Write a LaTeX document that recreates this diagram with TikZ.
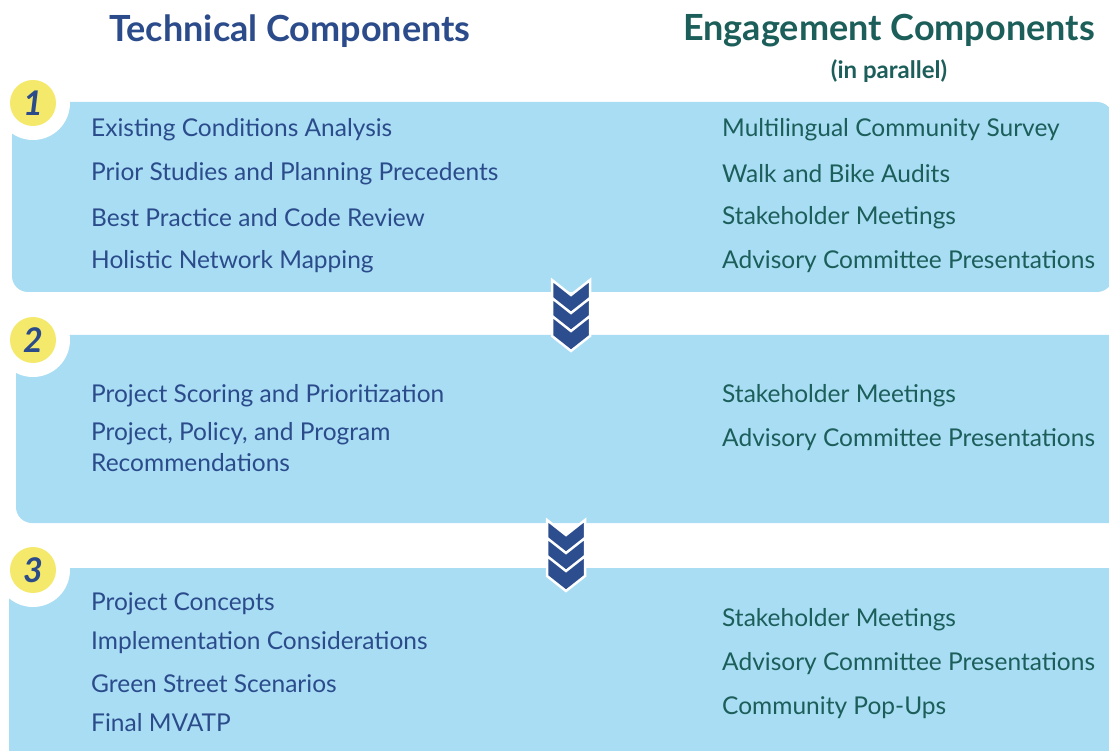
\documentclass[tikz,border=0pt]{standalone}
\usepackage{fontspec}
\setmainfont{Lato}
\usetikzlibrary{positioning}
\definecolor{bandblue}{HTML}{A8DDF4}
\definecolor{techblue}{HTML}{2B4B8B}
\definecolor{engteal}{HTML}{1C5E5A}
\definecolor{numyellow}{HTML}{F4E96A}
\definecolor{chevblue}{HTML}{2C4D8E}

\tikzset{
  band/.style={fill=bandblue, rounded corners=16pt},
  tech/.style={anchor=west, inner sep=0pt, text=techblue, font=\fontsize{24.5}{31}\selectfont, align=left},
  eng/.style={tech, text=engteal},
  head/.style={inner sep=0pt, font=\fontsize{36}{40}\bfseries\selectfont},
  num/.style={circle, fill=numyellow, minimum size=46pt, inner sep=0pt, text=techblue,
    font=\fontsize{34}{34}\bfseries\itshape\selectfont},
  chev/.style={fill=chevblue, draw=white, line width=2.5pt, line join=miter}
}

\begin{document}
\begin{tikzpicture}[x=1pt,y=-1pt]
  \clip (0,0) rectangle (1109,751);
  \fill[white] (0,0) rectangle (1109,751);

  % headers
  \node[head, text=techblue] (htech) at (290,31) {Technical Components};
  \node[head, text=engteal] (heng) at (889,31) {Engagement Components};
  \node[inner sep=0pt, text=engteal, font=\fontsize{24}{28}\bfseries\selectfont, below=12pt of heng] (hpar) {(in parallel)};

  % bands
  \fill[band] (12,102) rectangle (1113,292);
  \fill[band] (16,335) rectangle (1130,523);
  \fill[band] (9,568) rectangle (1130,790);

  % step numbers
  \foreach \n/\y in {1/103, 2/340, 3/570} {
    \fill[white] (33,\y) circle (37);
    \node[num] (num\n) at (33,\y) {\n};
  }

  % chevrons
  \foreach \cx/\cy in {571/280, 566/520} {
    \foreach \k in {0,1,2}
      \draw[chev] (\cx-19, \cy+18*\k) -- ++(19,15) -- ++(19,-15) -- ++(0,20) -- ++(-19,15) -- ++(-19,-15) -- cycle;
  }

  % step 1
  \foreach \t [count=\i] in {Existing Conditions Analysis, Prior Studies and Planning Precedents,
      Best Practice and Code Review, Holistic Network Mapping}
    \node[tech] (tA\i) at (91, 86+44*\i) {\t};
  \foreach \t [count=\i] in {Multilingual Community Survey, Walk and Bike Audits,
      Stakeholder Meetings, Advisory Committee Presentations}
    \node[eng] (eA\i) at (722, 86+44*\i) {\t};

  % step 2
  \node[tech] (tB1) at (91,396) {Project Scoring and Prioritization};
  \node[tech, anchor=north west] (tB2) at (91,422) {Project, Policy, and Program\\Recommendations};
  \node[eng] (eB1) at (722,396) {Stakeholder Meetings};
  \node[eng] (eB2) at (722,440) {Advisory Committee Presentations};

  % step 3
  \node[tech] (tC1) at (91,604) {Project Concepts};
  \node[tech] (tC2) at (91,643) {Implementation Considerations};
  \node[tech] (tC3) at (91,684) {Green Street Scenarios};
  \node[tech] (tC4) at (91,723) {Final MVATP};
  \foreach \t [count=\i] in {Stakeholder Meetings, Advisory Committee Presentations, Community Pop-Ups}
    \node[eng] (eC\i) at (722, 576+44*\i) {\t};
\end{tikzpicture}
\end{document}
